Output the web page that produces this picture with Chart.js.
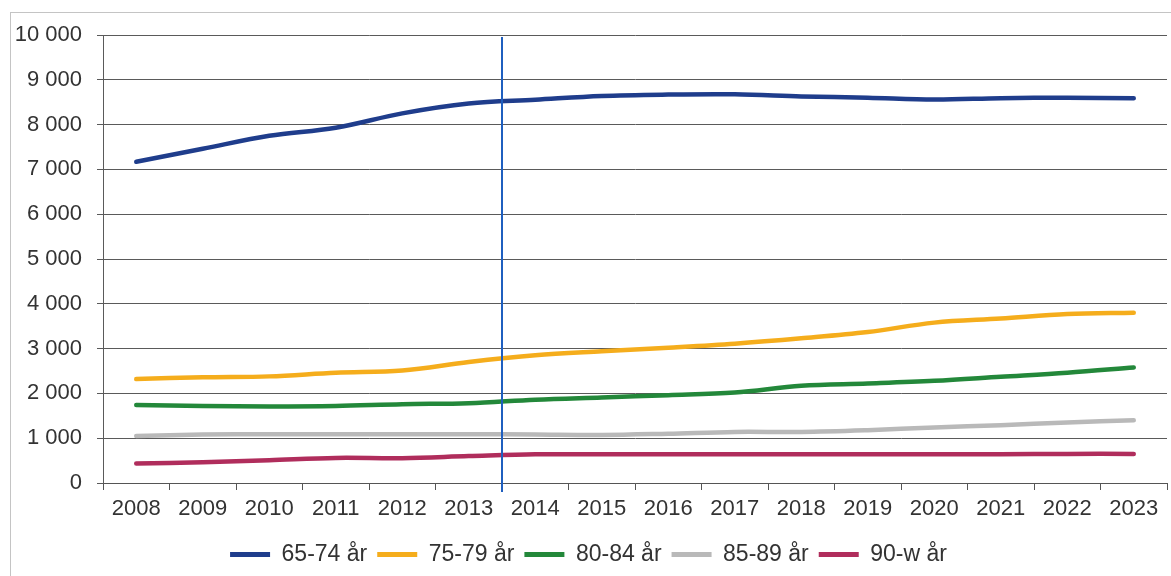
<!DOCTYPE html>
<html>
<head>
<meta charset="utf-8">
<script src="https://cdn.jsdelivr.net/npm/chart.js@4.4.1/dist/chart.umd.min.js"></script>
<style>
  html, body { margin: 0; padding: 0; background: #fff; }
  #wrap { position: relative; width: 1171px; height: 576px; }
  #frame { position: absolute; left: 10px; top: 12px; width: 1170px; height: 580px; border: 1px solid #c4c4c4; box-sizing: border-box; }
  canvas { position: absolute; left: 0; top: 0; }
</style>
</head>
<body>
<div id="wrap">
  <div id="frame"></div>
  <canvas id="c" width="1171" height="576"></canvas>
</div>
<script>
// Data
const years = ['2008','2009','2010','2011','2012','2013','2014','2015','2016','2017','2018','2019','2020','2021','2022','2023'];
const age6574 = [7170, 7460, 7750, 7930, 8250, 8470, 8555, 8640, 8670, 8675, 8630, 8600, 8560, 8590, 8600, 8590];
const age7579 = [2320, 2360, 2380, 2460, 2510, 2700, 2850, 2940, 3020, 3110, 3230, 3370, 3580, 3670, 3770, 3800];
const age8084 = [1740, 1720, 1710, 1720, 1760, 1780, 1860, 1910, 1960, 2020, 2170, 2220, 2280, 2370, 2460, 2580];
const age8589 = [1050, 1080, 1090, 1090, 1090, 1090, 1080, 1070, 1100, 1140, 1140, 1180, 1240, 1290, 1350, 1400];
const age90w  = [435, 465, 510, 560, 555, 600, 640, 640, 640, 640, 640, 640, 640, 640, 650, 650];
const yTicks = [0, 1000, 2000, 3000, 4000, 5000, 6000, 7000, 8000, 9000, 10000];
// marker drawn between these two categories
const markerAfter = '2013';

const FONT = 'Arial, "Liberation Sans", sans-serif';

function fmt(n) {
  return String(n).replace(/\B(?=(\d{3})+(?!\d))/g, ' ');
}

const markerLine = {
  id: 'markerLine',
  afterDatasetsDraw(chart) {
    const x = chart.scales.x;
    const i = years.indexOf(markerAfter);
    const px = (x.getPixelForValue(i) + x.getPixelForValue(i + 1)) / 2;
    const ctx = chart.ctx;
    ctx.save();
    ctx.strokeStyle = '#1f5fbf';
    ctx.lineWidth = 2;
    ctx.beginPath();
    ctx.moveTo(px, chart.chartArea.top + 2);
    ctx.lineTo(px, chart.chartArea.bottom + 9);
    ctx.stroke();
    ctx.restore();
  }
};

function series(label, data, color) {
  return {
    label, data,
    borderColor: color,
    backgroundColor: color,
    borderWidth: 4.5,
    pointRadius: 0,
    tension: 0.35,
    borderCapStyle: 'round'
  };
}

Chart.defaults.font.family = FONT;
Chart.defaults.color = '#333';

new Chart(document.getElementById('c'), {
  type: 'line',
  data: {
    labels: years,
    datasets: [
      series('65-74 år', age6574, '#1f3d8c'),
      series('75-79 år', age7579, '#f5ad1c'),
      series('80-84 år', age8084, '#23883a'),
      series('85-89 år', age8589, '#b9b9b9'),
      series('90-w år', age90w, '#b02d5c')
    ]
  },
  options: {
    responsive: false,
    animation: false,
    layout: { padding: { left: 10, right: 4, top: 35, bottom: 0 } },
    plugins: {
      legend: {
        position: 'bottom',
        labels: {
          boxWidth: 40,
          boxHeight: 5,
          padding: 10,
          color: '#333',
          font: { size: 23 },
          generateLabels(chart) {
            return Chart.defaults.plugins.legend.labels.generateLabels(chart)
              .map(l => ({ ...l, lineWidth: 0 }));
          }
        }
      },
      tooltip: { enabled: false }
    },
    scales: {
      x: {
        offset: true,
        afterFit(s) { s.height = 50; },
        grid: { offset: true, drawOnChartArea: false, color: '#555', tickLength: 7 },
        border: { color: '#555' },
        ticks: { color: '#333', font: { size: 22 }, padding: 6, maxRotation: 0 }
      },
      y: {
        min: 0, max: 10000,
        afterBuildTicks(s) { s.ticks = yTicks.map(v => ({ value: v })); },
        afterFit(s) { s.width = 93; },
        grid: { color: '#5a5a5a', tickLength: 6 },
        border: { color: '#5a5a5a' },
        ticks: { color: '#333', font: { size: 22 }, padding: 15, callback: v => fmt(v) }
      }
    }
  },
  plugins: [markerLine]
});
</script>
</body>
</html>
